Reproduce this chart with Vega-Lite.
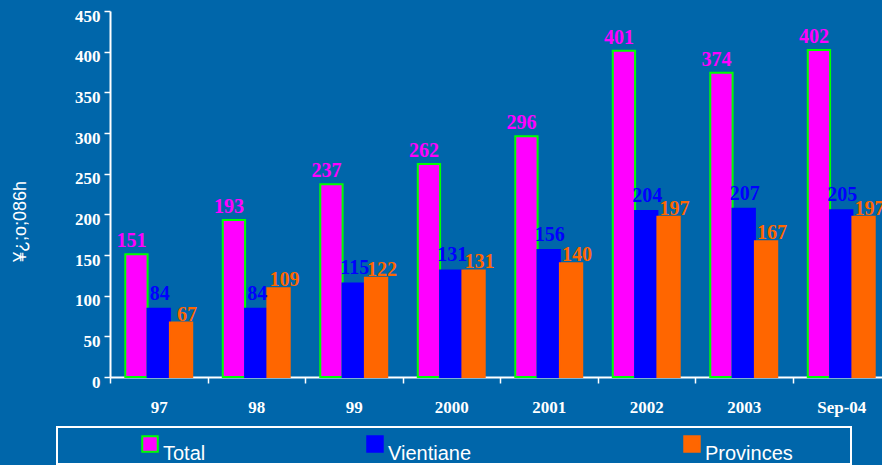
{
  "$schema": "https://vega.github.io/schema/vega-lite/v6.json",
  "autosize": {"type": "none"},
  "width": 772,
  "height": 366,
  "padding": {"left": 110, "top": 11, "right": 0, "bottom": 88},
  "background": "#0066aa",
  "config": {"view": {"stroke": null}, "font": "Liberation Serif"},
  "data": {
    "values": [
      {"period": "97", "series": "Total", "value": 151},
      {"period": "97", "series": "Vientiane", "value": 84},
      {"period": "97", "series": "Provinces", "value": 67},
      {"period": "98", "series": "Total", "value": 193},
      {"period": "98", "series": "Vientiane", "value": 84},
      {"period": "98", "series": "Provinces", "value": 109},
      {"period": "99", "series": "Total", "value": 237},
      {"period": "99", "series": "Vientiane", "value": 115},
      {"period": "99", "series": "Provinces", "value": 122},
      {"period": "2000", "series": "Total", "value": 262},
      {"period": "2000", "series": "Vientiane", "value": 131},
      {"period": "2000", "series": "Provinces", "value": 131},
      {"period": "2001", "series": "Total", "value": 296},
      {"period": "2001", "series": "Vientiane", "value": 156},
      {"period": "2001", "series": "Provinces", "value": 140},
      {"period": "2002", "series": "Total", "value": 401},
      {"period": "2002", "series": "Vientiane", "value": 204},
      {"period": "2002", "series": "Provinces", "value": 197},
      {"period": "2003", "series": "Total", "value": 374},
      {"period": "2003", "series": "Vientiane", "value": 207},
      {"period": "2003", "series": "Provinces", "value": 167},
      {"period": "Sep-04", "series": "Total", "value": 402},
      {"period": "Sep-04", "series": "Vientiane", "value": 205},
      {"period": "Sep-04", "series": "Provinces", "value": 197}
    ]
  },
  "encoding": {
    "x": {
      "field": "period",
      "type": "nominal",
      "sort": ["97", "98", "99", "2000", "2001", "2002", "2003", "Sep-04"],
      "scale": {"range": [0, 780], "paddingInner": 0, "paddingOuter": 0},
      "axis": {
        "title": null,
        "labelAngle": 0,
        "labelFont": "Liberation Serif",
        "labelFontWeight": "bold",
        "labelFontSize": 17,
        "labelColor": "white",
        "labelPadding": 16,
        "tickBand": "extent",
        "tickSize": 6,
        "tickWidth": 1.5,
        "tickColor": "white",
        "domainColor": "white",
        "domainWidth": 2,
        "grid": false
      }
    },
    "xOffset": {
      "field": "series",
      "type": "nominal",
      "scale": {"domain": ["Total", "Vientiane", "Provinces"], "paddingInner": 0, "paddingOuter": 0.685}
    },
    "y": {
      "field": "value",
      "type": "quantitative",
      "scale": {"domain": [0, 450], "nice": false},
      "axis": {
        "values": [0, 50, 100, 150, 200, 250, 300, 350, 400, 450],
        "title": "¥¿;o;086h",
        "titleFont": "Liberation Sans",
        "titleFontWeight": "normal",
        "titleFontSize": 18,
        "titleColor": "white",
        "titleX": -90,
        "titleY": 210,
        "titleAlign": "center",
        "titleBaseline": "middle",
        "labelFont": "Liberation Serif",
        "labelFontWeight": "bold",
        "labelFontSize": 17,
        "labelColor": "white",
        "labelPadding": 4,
        "labelOffset": 5,
        "tickSize": 6,
        "tickWidth": 1.5,
        "tickColor": "white",
        "domainColor": "white",
        "domainWidth": 2,
        "grid": false
      }
    }
  },
  "layer": [
    {
      "mark": {"type": "bar", "strokeWidth": 2},
      "encoding": {
        "color": {
          "field": "series",
          "type": "nominal",
          "scale": {"domain": ["Total", "Vientiane", "Provinces"], "range": ["#ff00ff", "#0000ff", "#ff6600"]},
          "legend": {
            "title": null,
            "orient": "none",
            "direction": "horizontal",
            "legendX": -53,
            "legendY": 416,
            "padding": 0,
            "strokeColor": "white",
            "symbolType": "square",
            "symbolSize": 240,
            "symbolStrokeWidth": 2,
            "symbolOffset": 83,
            "labelOffset": 3,
            "labelFont": "Liberation Sans",
            "labelFontSize": 20,
            "labelColor": "white",
            "labelBaseline": "top",
            "clipHeight": 34,
            "columnPadding": 0,
            "encode": {
              "legend": {"update": {"strokeWidth": {"value": 2}}},
              "entries": {"update": {"width": {"signal": "datum.index === 0 ? 225 : datum.index === 1 ? 317 : 252"}}}
            }
          }
        },
        "stroke": {
          "field": "series",
          "type": "nominal",
          "scale": {"domain": ["Total", "Vientiane", "Provinces"], "range": ["#00ff00", "#0000ff", "#ff6600"]}
        }
      }
    },
    {
      "transform": [{"filter": "datum.series === 'Total'"}],
      "mark": {"type": "text", "baseline": "alphabetic", "dy": -7, "dx": -5, "fontWeight": "bold", "fontSize": 20, "color": "#ff00ff"},
      "encoding": {"text": {"field": "value", "type": "quantitative"}}
    },
    {
      "transform": [{"filter": "datum.series === 'Vientiane'"}],
      "mark": {"type": "text", "baseline": "alphabetic", "dy": -9, "dx": 1, "fontWeight": "bold", "fontSize": 20, "color": "#0000ff"},
      "encoding": {"text": {"field": "value", "type": "quantitative"}}
    },
    {
      "transform": [{"filter": "datum.series === 'Provinces'"}],
      "mark": {"type": "text", "baseline": "alphabetic", "dy": -2, "dx": 6, "fontWeight": "bold", "fontSize": 20, "color": "#ff6600"},
      "encoding": {"text": {"field": "value", "type": "quantitative"}}
    }
  ]
}
